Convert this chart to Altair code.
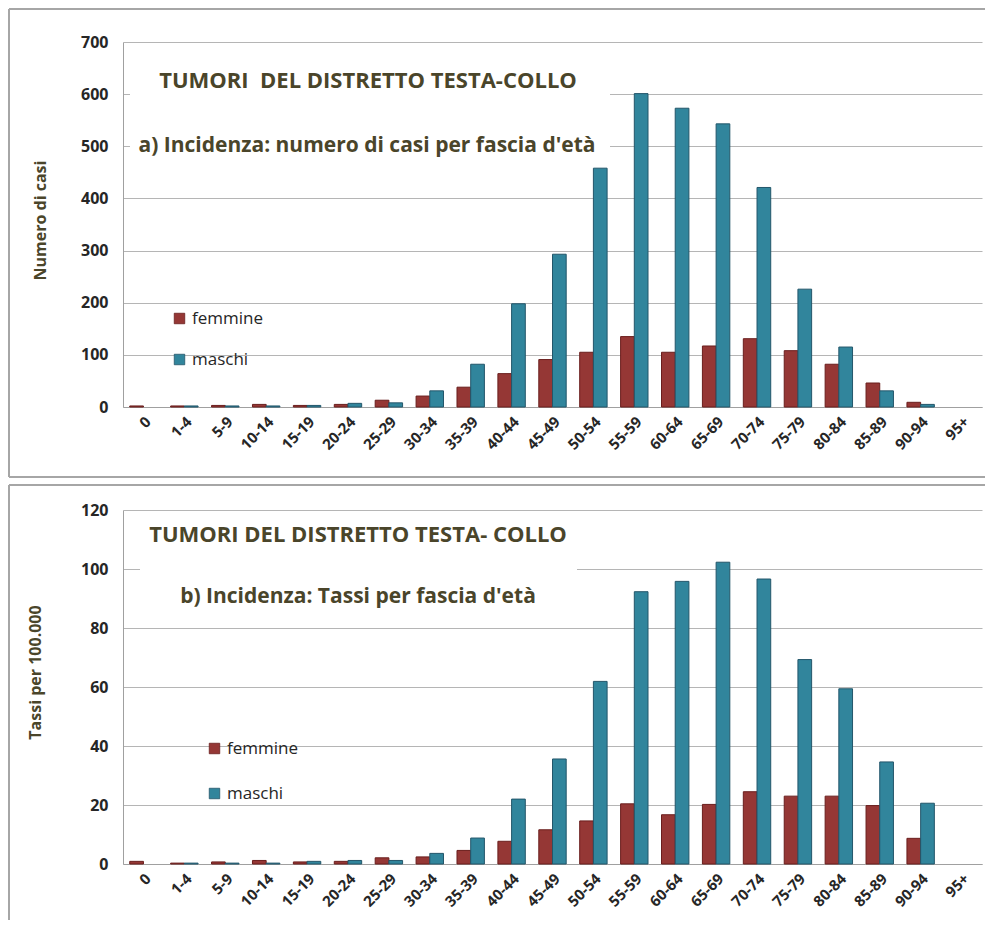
import altair as alt
import pandas as pd

ages = ["0", "1-4", "5-9", "10-14", "15-19", "20-24", "25-29", "30-34", "35-39",
        "40-44", "45-49", "50-54", "55-59", "60-64", "65-69", "70-74", "75-79",
        "80-84", "85-89", "90-94", "95+"]

casi_femmine = [2, 2, 3, 5, 3, 5, 13, 21, 38, 64, 91, 105, 135, 105, 117, 131, 108, 82, 46, 9, 0]
casi_maschi = [0, 2, 2, 2, 3, 7, 8, 31, 82, 198, 293, 458, 601, 573, 543, 421, 226, 115, 31, 5, 0]

tassi_femmine = [0.9, 0.3, 0.7, 1.2, 0.7, 0.9, 2.1, 2.4, 4.6, 7.7, 11.6, 14.6, 20.4, 16.7,
                 20.2, 24.5, 23.0, 23.0, 19.8, 8.7, 0]
tassi_maschi = [0, 0.3, 0.3, 0.3, 0.9, 1.2, 1.2, 3.6, 8.8, 22.0, 35.6, 61.9, 92.3, 95.8,
                102.3, 96.6, 69.3, 59.4, 34.6, 20.6, 0]

sexes = ["femmine", "maschi"]
fill_colors = ["#953735", "#31859C"]
stroke_colors = ["#6a1e1d", "#23566a"]

FONT = "Open Sans"
TITLE_COL = "#4a452a"
LABEL_COL = "#262626"
W = 859


def long_df(f, m):
    rows = []
    for a, vf, vm in zip(ages, f, m):
        rows.append({"eta": a, "sesso": "femmine", "valore": vf})
        rows.append({"eta": a, "sesso": "maschi", "valore": vm})
    return pd.DataFrame(rows)


one = pd.DataFrame({"k": [0]})


def panel(df, ymax, ystep, h, ytitle, ttl_x, ttl_y, t1, t1x, t1y, t2, t2x, t2y,
          box, leg_x, leg_y, row_pad, top_border, bottom_border, left_end):
    x = alt.X("eta:N", sort=ages,
              scale=alt.Scale(domain=ages, paddingInner=0.33, paddingOuter=0.165),
              axis=alt.Axis(title=None, labelAngle=-45, labelFont=FONT, labelFontSize=15,
                            labelFontWeight="bold", labelColor=LABEL_COL, ticks=False,
                            tickSize=0, labelPadding=7, domainColor="#a0a0a0",
                            grid=False, labelOverlap=False))
    y = alt.Y("valore:Q", scale=alt.Scale(domain=[0, ymax], nice=False),
              axis=alt.Axis(values=list(range(0, ymax + 1, ystep)), title=ytitle,
                            titleFont=FONT, titleFontSize=16, titleFontWeight="bold",
                            titleColor=TITLE_COL, titleAngle=-90, titleX=ttl_x,
                            titleY=ttl_y, titleBaseline="middle", titleAlign="center",
                            labelFont=FONT, labelFontSize=16, labelFontWeight="bold",
                            labelColor=LABEL_COL, labelPadding=15, ticks=False,
                            tickSize=0, domainColor="#a0a0a0", gridColor="#b5b5b5",
                            gridWidth=1))
    bars = alt.Chart(df).transform_filter(alt.datum.valore > 0).mark_bar(strokeWidth=1).encode(
        x=x,
        xOffset=alt.XOffset("sesso:N", sort=sexes,
                            scale=alt.Scale(domain=sexes, paddingInner=0, paddingOuter=0)),
        y=y,
        color=alt.Color("sesso:N",
                        scale=alt.Scale(domain=sexes, range=fill_colors),
                        legend=alt.Legend(title=None, orient="none", legendX=leg_x,
                                          legendY=leg_y, symbolType="square",
                                          symbolSize=110, symbolStrokeColor="#555555",
                                          symbolStrokeWidth=0.8, labelFont=FONT,
                                          labelFontSize=17, labelColor=LABEL_COL,
                                          rowPadding=row_pad, labelOffset=4)),
        stroke=alt.Stroke("sesso:N",
                          scale=alt.Scale(domain=sexes, range=stroke_colors),
                          legend=None),
    )
    bx0, bx1, by0, by1 = box
    rect = alt.Chart(one).mark_rect(color="white").encode(
        x=alt.value(bx0), x2=alt.value(bx1), y=alt.value(by0), y2=alt.value(by1))
    txt1 = alt.Chart(one).mark_text(font=FONT, fontSize=22, fontWeight="bold",
                                    color=TITLE_COL, align="center",
                                    baseline="alphabetic", text=t1).encode(
        x=alt.value(t1x), y=alt.value(t1y))
    txt2 = alt.Chart(one).mark_text(font=FONT, fontSize=21, fontWeight="bold",
                                    color=TITLE_COL, align="center",
                                    baseline="alphabetic", text=t2).encode(
        x=alt.value(t2x), y=alt.value(t2y))
    border_col = "#a6a6a6"
    layers = [rect, txt1, txt2, bars]
    layers.append(alt.Chart(one).mark_rule(color=border_col, strokeWidth=2).encode(
        x=alt.value(-114), x2=alt.value(W + 3), y=alt.value(top_border)))
    layers.append(alt.Chart(one).mark_rule(color=border_col, strokeWidth=2).encode(
        x=alt.value(-114), y=alt.value(top_border), y2=alt.value(left_end)))
    if bottom_border is not None:
        layers.append(alt.Chart(one).mark_rule(color=border_col, strokeWidth=2).encode(
            x=alt.value(-114), x2=alt.value(W + 3), y=alt.value(bottom_border)))
    return alt.layer(*layers).properties(width=W, height=h)


top = panel(long_df(casi_femmine, casi_maschi), 700, 100, 365, "Numero di casi",
            -83, 178,
            "TUMORI \u00a0DEL DISTRETTO TESTA-COLLO", 245, 46,
            "a) Incidenza: numero di casi per fascia d'età", 244, 110,
            (7, 487, 13, 123), 48, 268, 23, -33, 435, 435)

bottom = panel(long_df(tassi_femmine, tassi_maschi), 120, 20, 354, "Tassi per 100.000",
               -88, 162,
               "TUMORI DEL DISTRETTO TESTA- COLLO", 235, 32,
               "b) Incidenza: Tassi per fascia d'età", 235, 93,
               (17, 454, 10, 110), 83, 230, 27, -25, None, 410)

chart = alt.vconcat(top, bottom, spacing=103, bounds="flush").resolve_scale(
    color="independent", stroke="independent", x="independent", y="independent",
    xOffset="independent"
).resolve_legend(color="independent").configure_view(stroke=None).properties(
    padding=0, background="white")

chart.save("out.html", embed_options={"renderer": "svg", "actions": False})
